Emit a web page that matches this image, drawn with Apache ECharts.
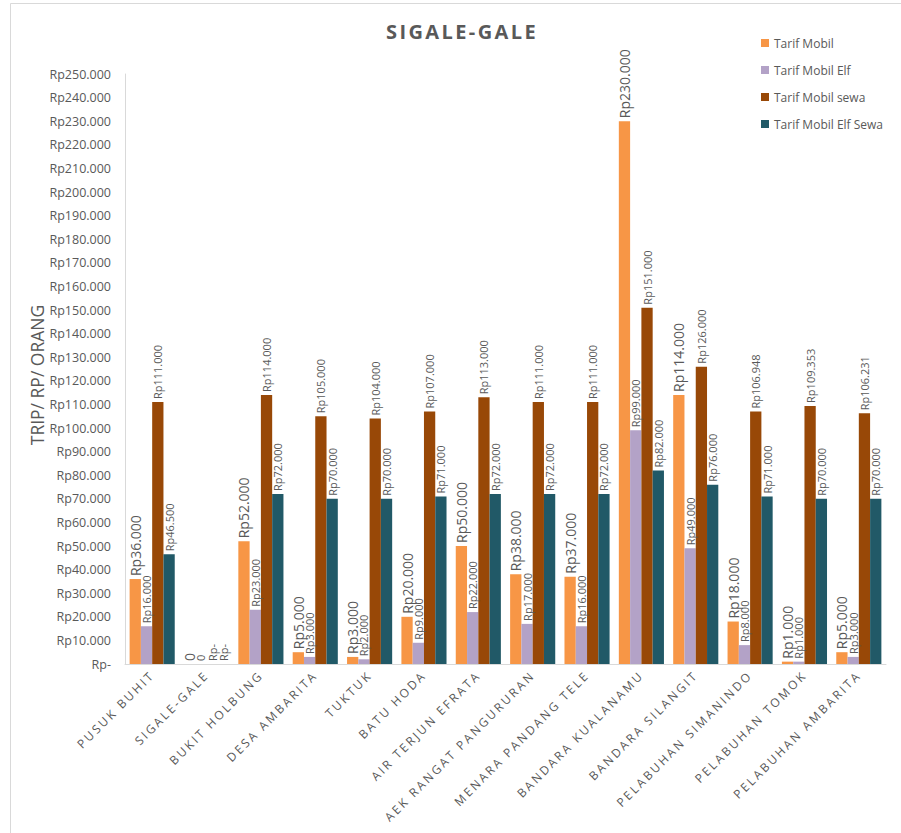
<!DOCTYPE html>
<html>
<head>
<meta charset="utf-8">
<title>SIGALE-GALE</title>
<script src="https://cdn.jsdelivr.net/npm/echarts@6/dist/echarts.min.js"></script>
<style>
  html, body { margin: 0; padding: 0; background: #ffffff; }
  #chart { width: 901px; height: 833px; }
</style>
</head>
<body>
<div id="chart"></div>
<script>
// Destinations (x axis)
const categories = [
  'PUSUK BUHIT', 'SIGALE-GALE', 'BUKIT HOLBUNG', 'DESA AMBARITA', 'TUKTUK',
  'BATU HODA', 'AIR TERJUN EFRATA', 'AEK RANGAT PANGURURAN', 'MENARA PANDANG TELE',
  'BANDARA KUALANAMU', 'BANDARA SILANGIT', 'PELABUHAN SIMANINDO',
  'PELABUHAN TOMOK', 'PELABUHAN AMBARITA'
];

// Fares per trip per person (Rp)
const tarifMobil = [36000, 0, 52000, 5000, 3000, 20000, 50000, 38000, 37000, 230000, 114000, 18000, 1000, 5000];
const tarifMobilElf = [16000, 0, 23000, 3000, 2000, 9000, 22000, 17000, 16000, 99000, 49000, 8000, 1000, 3000];
const tarifMobilSewa = [111000, 0, 114000, 105000, 104000, 107000, 113000, 111000, 111000, 151000, 126000, 106948, 109353, 106231];
const tarifMobilElfSewa = [46500, 0, 72000, 70000, 70000, 71000, 72000, 72000, 72000, 82000, 76000, 71000, 70000, 70000];

const seriesNames = ['Tarif Mobil', 'Tarif Mobil Elf', 'Tarif Mobil sewa', 'Tarif Mobil Elf Sewa'];
const seriesValues = [tarifMobil, tarifMobilElf, tarifMobilSewa, tarifMobilElfSewa];
const seriesColors = ['#F79646', '#B3A2C7', '#984807', '#215967'];
const zeroLabels = ['0', '0', 'Rp-', 'Rp-'];
const labelSizes = [14, 11, 11, 11];

// Y axis scale
const yMin = 0, yMax = 250000, yStep = 10000;
const yTitle = 'TRIP/ RP/ ORANG';
const chartTitle = 'SIGALE-GALE';

function rupiah(v) {
  if (v === 0) return 'Rp-';
  return 'Rp' + String(v).replace(/\B(?=(\d{3})+(?!\d))/g, '.');
}

const textColor = '#595959';
const font = 'Open Sans';

const chart = echarts.init(document.getElementById('chart'), null, { renderer: 'svg' });

const series = seriesNames.map((name, i) => ({
  name: name,
  type: 'bar',
  data: seriesValues[i],
  barGap: '0%',
  barCategoryGap: '17%',
  itemStyle: { color: seriesColors[i] },
  label: {
    show: true,
    position: 'top',
    rotate: 90,
    align: 'left',
    verticalAlign: 'middle',
    distance: 3,
    fontSize: labelSizes[i],
    fontFamily: font,
    color: textColor,
    formatter: p => (p.value === 0 ? zeroLabels[i] : rupiah(p.value))
  }
}));

chart.setOption({
  animation: false,
  backgroundColor: '#ffffff',
  textStyle: { fontFamily: font },
  graphic: [{
    type: 'rect',
    shape: { x: 10.5, y: 3.5, width: 920, height: 860 },
    style: { fill: 'none', stroke: '#d9d9d9', lineWidth: 1 },
    silent: true,
    z: -1
  }, {
    // vertical axis title
    type: 'text',
    x: 36.5,
    y: 375,
    rotation: Math.PI / 2,
    silent: true,
    style: {
      text: yTitle,
      fill: textColor,
      font: '17.5px "Open Sans"',
      textAlign: 'center',
      textVerticalAlign: 'middle'
    }
  }],
  title: {
    text: chartTitle,
    left: 386,
    top: 21,
    padding: 0,
    textStyle: { fontSize: 20, fontWeight: 'bold', color: textColor, fontFamily: font }
  },
  legend: {
    orient: 'vertical',
    left: 756,
    top: 32,
    itemWidth: 8,
    itemHeight: 8,
    itemGap: 15,
    icon: 'rect',
    data: seriesNames,
    textStyle: { fontSize: 12, color: textColor, fontFamily: font }
  },
  grid: { left: 125, right: 15, top: 74, bottom: 169, containLabel: false },
  xAxis: {
    type: 'category',
    data: categories,
    axisLine: { lineStyle: { color: '#d9d9d9', width: 1 } },
    axisTick: { show: false },
    axisLabel: {
      interval: 0,
      rotate: 45,
      margin: 9,
      fontSize: 12,
      color: textColor,
      fontFamily: font
    }
  },
  yAxis: {
    type: 'value',
    min: yMin,
    max: yMax,
    interval: yStep,
    axisLine: { show: true, lineStyle: { color: '#d9d9d9', width: 1 } },
    axisTick: { show: false },
    splitLine: { show: false },
    axisLabel: {
      margin: 14,
      fontSize: 12.5,
      color: textColor,
      fontFamily: font,
      formatter: v => rupiah(v)
    }
  },
  series: series
});

// Spaced-out lettering for the category names and the title
function spaceLetters() {
  const texts = chart.getDom().querySelectorAll('text');
  texts.forEach(t => {
    const s = t.textContent;
    if (categories.indexOf(s) >= 0) {
      t.setAttribute('letter-spacing', '2.4px');
    } else if (s === chartTitle) {
      t.setAttribute('letter-spacing', '1.5px');
    }
  });
}
chart.on('finished', spaceLetters);
setTimeout(spaceLetters, 50);
setTimeout(spaceLetters, 300);
</script>
</body>
</html>
